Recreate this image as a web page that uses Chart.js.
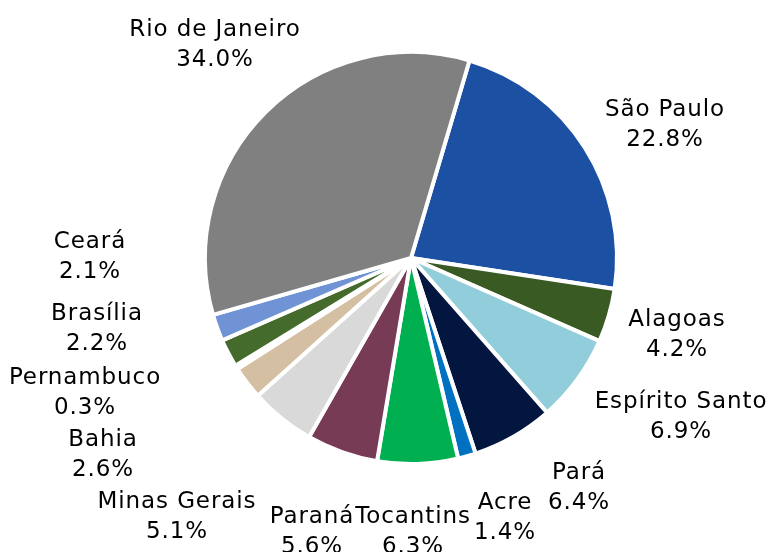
<!DOCTYPE html>
<html>
<head>
<meta charset="utf-8">
<script src="https://cdn.jsdelivr.net/npm/chart.js"></script>
<style>
  html, body { margin: 0; padding: 0; background: #fff; }
  #wrap { width: 768px; height: 552px; }
</style>
</head>
<body>
<div id="wrap"><canvas id="chart" width="768" height="552"></canvas></div>
<script>
const states = ["São Paulo", "Alagoas", "Espírito Santo", "Pará", "Acre", "Tocantins", "Paraná",
  "Minas Gerais", "Bahia", "Pernambuco", "Brasília", "Ceará", "Rio de Janeiro"]
const shares = [22.8, 4.2, 6.9, 6.4, 1.4, 6.3, 5.6, 5.1, 2.6, 0.3, 2.2, 2.1, 34.0]
const sliceColors = ["#1c50a2", "#3a5a24", "#92cddc", "#021640", "#0070c0", "#00b050", "#783b55",
  "#d9d9d9", "#d5bfa2", "#eeeeee", "#446a2c", "#6f93d4", "#808080"]

// where each label sits (centre x, first line y)
const labelSpots = [[665, 108], [677, 318], [681, 400], [579, 471], [505, 501], [413, 515], [312, 515],
  [177, 500], [103, 438], [85, 376], [97, 312], [90, 240], [215, 28]]

const chartCanvas = document.getElementById("chart")

const labelPlugin = {
  id: "outLabels",
  afterDraw(chart) {
    const ctx = chart.ctx
    const data = chart.data.datasets[0].data
    ctx.save()
    ctx.font = "23px 'DejaVu Sans', Verdana, sans-serif"
    ctx.letterSpacing = "0.9px"
    ctx.fillStyle = "#000"
    ctx.textAlign = "center"
    ctx.textBaseline = "middle"
    chart.data.labels.forEach((name, i) => {
      const [x, y] = labelSpots[i]
      ctx.fillText(name, x, y + 2)
      ctx.fillText(data[i].toFixed(1) + "%", x, y + 32)
    })
    ctx.restore()
  }
}

new Chart(chartCanvas, {
  type: "pie",
  data: {
    labels: states,
    datasets: [{
      data: shares,
      backgroundColor: sliceColors,
      borderColor: "#ffffff",
      borderWidth: 4
    }]
  },
  options: {
    responsive: false,
    animation: false,
    rotation: 16.5,
    layout: { padding: { left: 203, right: 149, top: 50, bottom: 86 } },
    plugins: {
      legend: { display: false },
      tooltip: { enabled: false }
    }
  },
  plugins: [labelPlugin]
})
</script>
</body>
</html>
